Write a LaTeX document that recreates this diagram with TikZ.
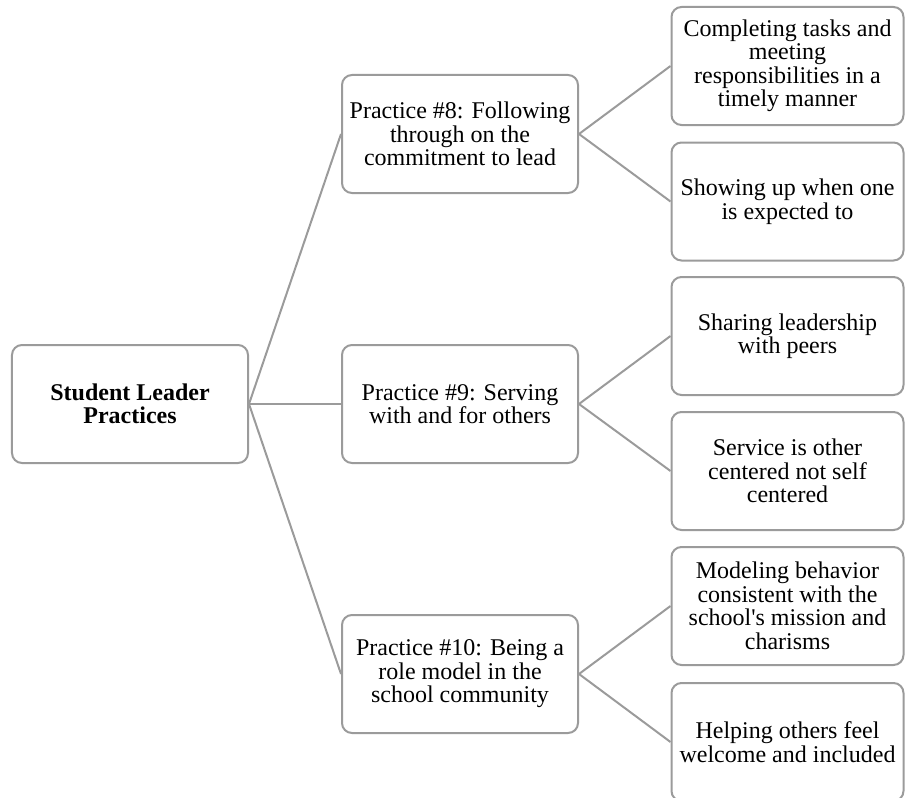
\documentclass[tikz,border=0pt]{standalone}
\usepackage{fontspec}
\setmainfont{Liberation Serif}
\definecolor{edgegray}{RGB}{155,155,155}
\begin{document}
\begin{tikzpicture}[x=1bp,y=-1bp,
  box/.style={draw=edgegray, line width=2bp, rounded corners=10bp, fill=white,
    minimum width=236bp, minimum height=118bp, inner sep=0pt, align=center,
    font=\fontsize{24bp}{23.5bp}\selectfont},
  rootbox/.style={box, font=\fontsize{24bp}{23.5bp}\selectfont\bfseries},
  leafbox/.style={box, minimum width=232bp},
  link/.style={draw=edgegray, line width=2bp}]
\useasboundingbox (0,0) rectangle (905,798);

% root and practice boxes
\node[rootbox] (root) at (130,404) {Student Leader\\Practices};
\node[box] (p8)  at (460,134) {Practice \#8: Following\\through on the\\commitment to lead};
\node[box] (p9)  at (460,404) {Practice \#9: Serving\\with and for others};
\node[box] (p10) at (460,674) {Practice \#10: Being a\\role model in the\\school community};

% behaviours for each practice
\node[leafbox] (a1) at (787.5,66)    {Completing tasks and\\meeting\\responsibilities in a\\timely manner};
\node[leafbox] (a2) at (787.5,201.5) {Showing up when one\\is expected to};
\node[leafbox] (b1) at (787.5,336)   {Sharing leadership\\with peers};
\node[leafbox] (b2) at (787.5,471)   {Service is other\\centered not self\\centered};
\node[leafbox] (c1) at (787.5,606)   {Modeling behavior\\consistent with the\\school\textquotesingle s mission and\\charisms};
\node[leafbox] (c2) at (787.5,742)   {Helping others feel\\welcome and included};

% connectors
\foreach \p in {p8,p9,p10} \draw[link] (root.east) -- (\p.west);
\draw[link] (p8.east) -- (a1.west);
\draw[link] (p8.east) -- (a2.west);
\draw[link] (p9.east) -- (b1.west);
\draw[link] (p9.east) -- (b2.west);
\draw[link] (p10.east) -- (c1.west);
\draw[link] (p10.east) -- (c2.west);
\end{tikzpicture}
\end{document}
